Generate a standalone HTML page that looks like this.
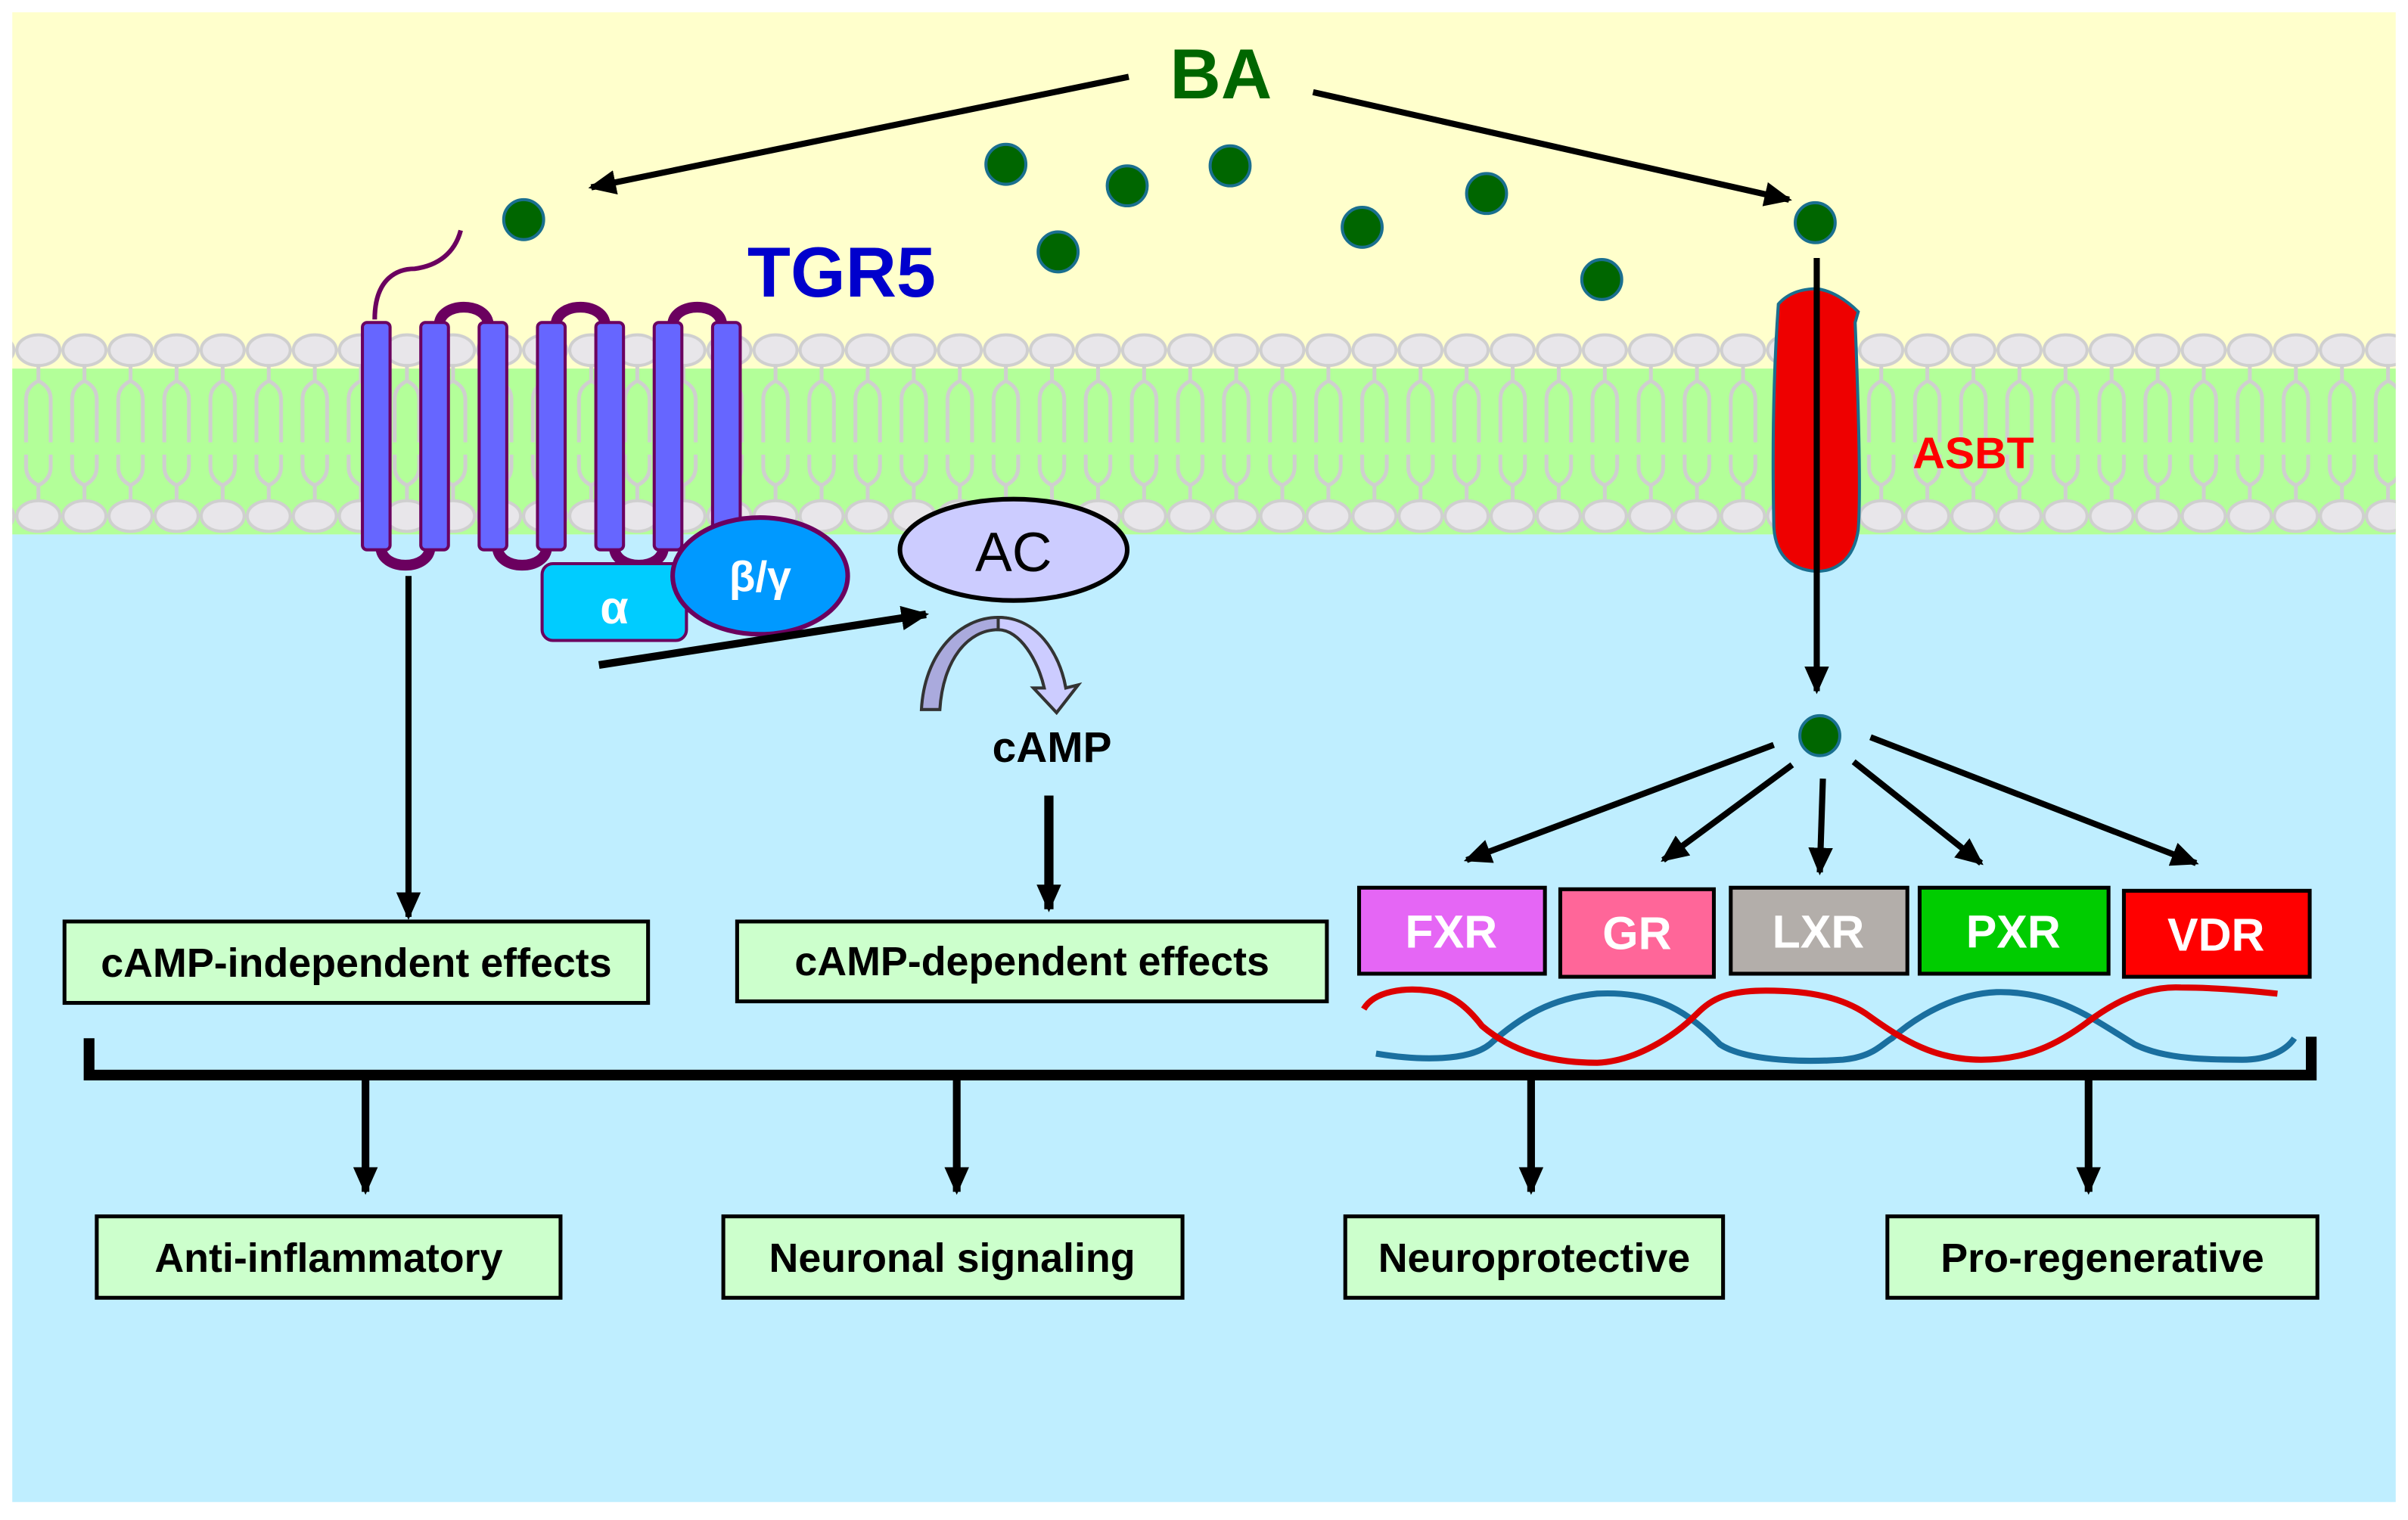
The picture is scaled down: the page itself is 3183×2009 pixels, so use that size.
<!DOCTYPE html>
<html><head><meta charset="utf-8"><style>
html,body{margin:0;padding:0;background:#fff}
svg{display:block}
text{font-family:"Liberation Sans",Arial,sans-serif;font-weight:bold}
</style></head><body>
<svg width="3183" height="2009" viewBox="0 0 1568 989.7" preserveAspectRatio="none" xmlns="http://www.w3.org/2000/svg">
<defs>
<pattern id="lip" x="10" y="0" width="30" height="990" patternUnits="userSpaceOnUse">
<path d="M15,236 L15,248 M15,248 q-8,4 -8,12 L7,288 M15,248 q8,4 8,12 L23,288 M15,328 L15,316 M15,316 q-8,-4 -8,-12 L7,296 M15,316 q8,-4 8,-12 L23,296" fill="none" stroke="#cfcfcf" stroke-width="2.5"/>
<ellipse cx="15" cy="228" rx="14" ry="10" fill="#e8e6ea" stroke="#cfcfcf" stroke-width="2"/>
<ellipse cx="15" cy="336" rx="14" ry="10" fill="#e8e6ea" stroke="#cfcfcf" stroke-width="2"/>
</pattern>
<marker id="ah2" markerWidth="18" markerHeight="16" refX="16" refY="8" orient="auto" markerUnits="userSpaceOnUse"><path d="M0,0 L18,8 L0,16 z" fill="#000"/></marker>
</defs>
<rect x="0" y="0" width="1568" height="990" fill="#fff"/>
<rect x="8" y="8" width="1552" height="240" fill="#ffffcc"/>
<rect x="8" y="240" width="1552" height="108" fill="#b3ff99"/>
<rect x="8" y="348" width="1552" height="630" fill="#bfeeff"/>
<rect x="8" y="210" width="1552" height="140" fill="url(#lip)"/>

<text x="795" y="64" font-size="46" fill="#006600" text-anchor="middle">BA</text>
<line x1="735" y1="50" x2="385" y2="122" stroke="#000" stroke-width="4" marker-end="url(#ah2)"/>
<line x1="855" y1="60" x2="1165" y2="130" stroke="#000" stroke-width="4" marker-end="url(#ah2)"/>
<g fill="#006600" stroke="#1a6f8f" stroke-width="2">
<circle cx="341" cy="143" r="13"/><circle cx="655" cy="107" r="13"/><circle cx="734" cy="121" r="13"/><circle cx="801" cy="108" r="13"/><circle cx="689" cy="164" r="13"/><circle cx="887" cy="148" r="13"/><circle cx="968" cy="126" r="13"/><circle cx="1043" cy="182" r="13"/><circle cx="1182" cy="145" r="13"/><circle cx="1185" cy="479" r="13"/>
</g>
<text x="548" y="193" font-size="46" fill="#0000cc" text-anchor="middle">TGR5</text>

<g fill="none" stroke="#6b005f" stroke-width="7">
<path d="M244,208 C244,180 260,175 270,175 C285,173 296,165 300,150" stroke-width="3"/>
<path d="M286,212 C286,196 318,196 318,212"/>
<path d="M362,212 C362,196 394,196 394,212"/>
<path d="M438,212 C438,196 470,196 470,212"/>
<path d="M248,356 C248,372 280,372 280,356"/>
<path d="M324,356 C324,372 356,372 356,356"/>
<path d="M400,356 C400,372 432,372 432,356"/>
</g>
<g fill="#6666ff" stroke="#6b005f" stroke-width="2">
<rect x="236" y="210" width="18" height="148" rx="3"/>
<rect x="274" y="210" width="18" height="148" rx="3"/>
<rect x="312" y="210" width="18" height="148" rx="3"/>
<rect x="350" y="210" width="18" height="148" rx="3"/>
<rect x="388" y="210" width="18" height="148" rx="3"/>
<rect x="426" y="210" width="18" height="148" rx="3"/>
<rect x="464" y="210" width="18" height="148" rx="3"/>
</g>
<rect x="353" y="367" width="94" height="50" rx="7" fill="#00ccff" stroke="#6b005f" stroke-width="2"/>
<text x="400" y="406" font-size="30" fill="#fff" text-anchor="middle">α</text>
<ellipse cx="495" cy="375" rx="57" ry="38" fill="#0099ff" stroke="#6b005f" stroke-width="3"/>
<text x="495" y="385" font-size="28" fill="#fff" text-anchor="middle">β/γ</text>
<ellipse cx="660" cy="358" rx="74" ry="33" fill="#ccccff" stroke="#000" stroke-width="3"/>
<text x="660" y="372" font-size="36" fill="#000" text-anchor="middle" style="font-weight:normal">AC</text>
<line x1="390" y1="433" x2="603" y2="400" stroke="#000" stroke-width="5" marker-end="url(#ah2)"/>
<path d="M600,462 L612,462 C614,430 630,410 650,410 C664,410 676,430 680,448 L673,448 L688,464 L702,446 L694,448 C690,425 674,402 650,402 C625,402 602,425 600,462 Z" fill="#aaaadd" stroke="#333" stroke-width="2"/>
<path d="M650,402 C675,402 690,425 694,448 L702,446 L688,464 L673,448 L680,448 C676,430 664,410 650,410 Z" fill="#ccccff" stroke="#333" stroke-width="2"/>
<text x="685" y="496" font-size="28" fill="#000" text-anchor="middle">cAMP</text>
<line x1="683" y1="518" x2="683" y2="592" stroke="#000" stroke-width="6" marker-end="url(#ah2)"/>
<line x1="266" y1="375" x2="266" y2="597" stroke="#000" stroke-width="4" marker-end="url(#ah2)"/>

<g fill="#ccffcc" stroke="#000" stroke-width="2.5">
<rect x="42" y="600" width="380" height="53"/>
<rect x="480" y="600" width="384" height="52"/>
<rect x="63" y="792" width="302" height="53"/>
<rect x="471" y="792" width="299" height="53"/>
<rect x="876" y="792" width="246" height="53"/>
<rect x="1229" y="792" width="280" height="53"/>
</g>
<g font-size="26.5" fill="#000" text-anchor="middle">
<text x="232" y="636">cAMP-independent effects</text>
<text x="672" y="635">cAMP-dependent effects</text>
<text x="214" y="828">Anti-inflammatory</text>
<text x="620" y="828">Neuronal signaling</text>
<text x="999" y="828">Neuroprotective</text>
<text x="1369" y="828">Pro-regenerative</text>
</g>

<path d="M1158,198 C1165,190 1175,188 1183,188 C1192,189 1202,195 1210,203 L1208,210 C1210,260 1212,320 1210,345 C1207,365 1195,372 1183,372 C1165,371 1155,360 1155,340 C1154,290 1155,240 1158,198 Z" fill="#ee0000" stroke="#1a6f8f" stroke-width="2"/>
<line x1="1183" y1="168" x2="1183" y2="450" stroke="#000" stroke-width="4" marker-end="url(#ah2)"/>
<text x="1285" y="305" font-size="29" fill="#ff0000" text-anchor="middle">ASBT</text>
<g stroke="#000" stroke-width="4">
<line x1="1155" y1="485" x2="955" y2="560" marker-end="url(#ah2)"/>
<line x1="1167" y1="498" x2="1083" y2="560" marker-end="url(#ah2)"/>
<line x1="1187" y1="507" x2="1185" y2="568" marker-end="url(#ah2)"/>
<line x1="1207" y1="496" x2="1290" y2="562" marker-end="url(#ah2)"/>
<line x1="1218" y1="480" x2="1430" y2="562" marker-end="url(#ah2)"/>
</g>
<g stroke="#000" stroke-width="2.5">
<rect x="885" y="578" width="121" height="56" fill="#e566f5"/>
<rect x="1016" y="579" width="100" height="57" fill="#ff6699"/>
<rect x="1127" y="578" width="115" height="56" fill="#b3aeaa"/>
<rect x="1250" y="578" width="123" height="56" fill="#00cc00"/>
<rect x="1383" y="580" width="121" height="56" fill="#ff0000"/>
</g>
<g font-size="30" fill="#fff" text-anchor="middle">
<text x="945" y="617">FXR</text>
<text x="1066" y="618">GR</text>
<text x="1184" y="617">LXR</text>
<text x="1311" y="617">PXR</text>
<text x="1443" y="619">VDR</text>
</g>
<path d="M896,686 C920,690 955,692 970,680 C990,662 1010,650 1040,647 C1080,645 1100,660 1120,680 C1135,690 1170,692 1200,690 C1220,688 1225,680 1232,676 C1250,660 1275,647 1300,646 C1340,645 1365,665 1390,680 C1410,690 1440,690 1460,690 C1480,690 1490,682 1494,676" fill="none" stroke="#1a6f9f" stroke-width="4"/>
<path d="M888,657 C895,645 915,643 930,645 C945,647 955,655 965,668 C985,685 1010,692 1040,692 C1065,691 1090,675 1105,660 C1115,650 1125,645 1150,645 C1180,645 1200,650 1215,660 C1240,678 1260,690 1290,690 C1320,690 1340,680 1360,665 C1380,650 1400,642 1420,643 C1440,643 1465,645 1483,647" fill="none" stroke="#dd0000" stroke-width="4"/>
<path d="M58,676 L58,700 L1505,700 L1505,675" fill="none" stroke="#000" stroke-width="7"/>
<g stroke="#000" stroke-width="5">
<line x1="238" y1="703" x2="238" y2="776" marker-end="url(#ah2)"/>
<line x1="623" y1="703" x2="623" y2="776" marker-end="url(#ah2)"/>
<line x1="997" y1="703" x2="997" y2="776" marker-end="url(#ah2)"/>
<line x1="1360" y1="703" x2="1360" y2="776" marker-end="url(#ah2)"/>
</g>
</svg>
</body></html>
